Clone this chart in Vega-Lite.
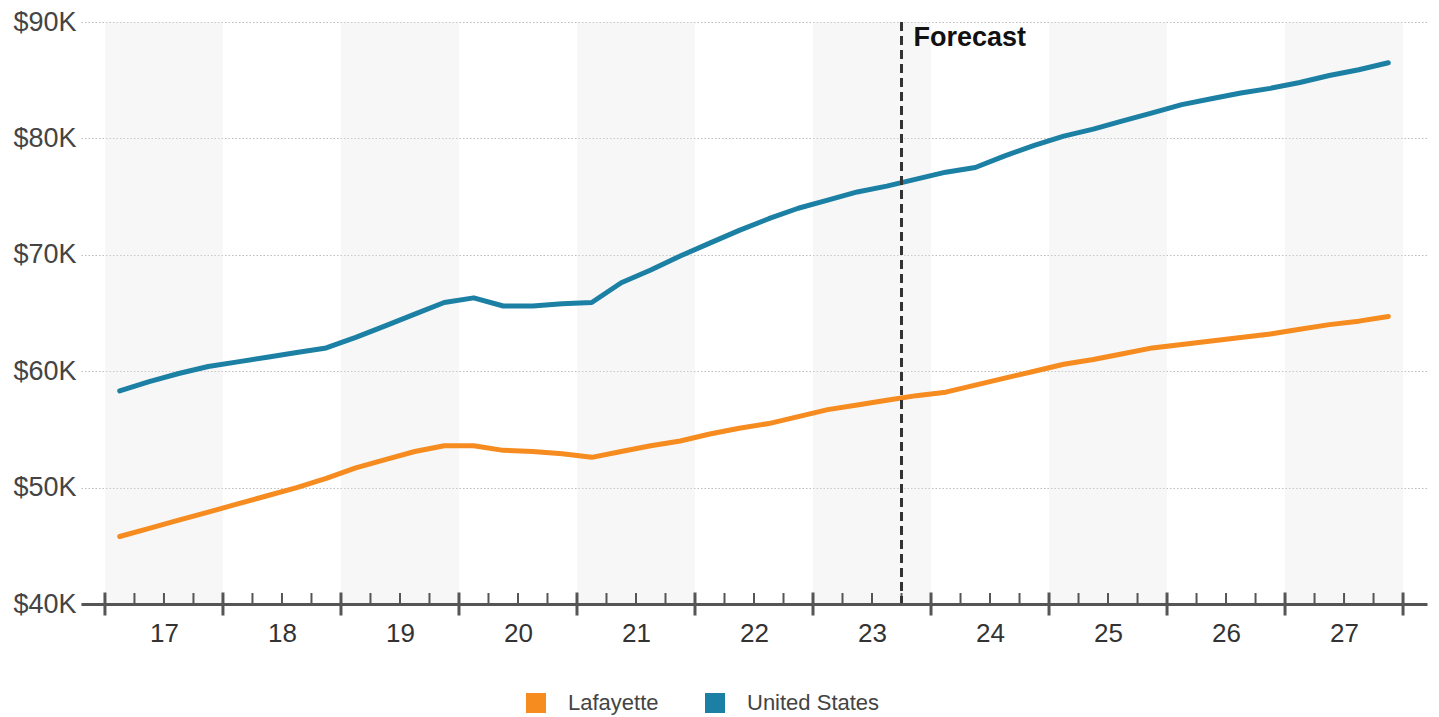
{
  "$schema": "https://vega.github.io/schema/vega-lite/v6.json",
  "width": 1346,
  "height": 582,
  "autosize": {"type": "none"},
  "padding": {"left": 81, "top": 22, "right": 12, "bottom": 113},
  "background": "white",
  "config": {
    "view": {"stroke": null},
    "font": "Liberation Sans",
    "axis": {"labelFont": "Liberation Sans"},
    "legend": {"labelFont": "Liberation Sans"}
  },
  "layer": [
    {
      "data": {"values": [
        {"start": 2017, "end": 2018},
        {"start": 2019, "end": 2020},
        {"start": 2021, "end": 2022},
        {"start": 2023, "end": 2024},
        {"start": 2025, "end": 2026},
        {"start": 2027, "end": 2028}
      ]},
      "mark": {"type": "rect", "fill": "#e4e4e4", "opacity": 0.3},
      "encoding": {
        "x": {
          "field": "start", "type": "quantitative",
          "scale": {"domain": [2016.797, 2028.203], "nice": false, "zero": false},
          "axis": {
            "orient": "bottom", "title": null, "grid": false, "zindex": 1,
            "values": [2017.5, 2018.5, 2019.5, 2020.5, 2021.5, 2022.5, 2023.5, 2024.5, 2025.5, 2026.5, 2027.5],
            "labelExpr": "substring(toString(floor(datum.value)), 2)",
            "ticks": false, "tickSize": 0,
            "domain": true, "domainColor": "#555555", "domainWidth": 3,
            "labelFontSize": 26, "labelColor": "#333333", "labelPadding": 16
          }
        },
        "x2": {"field": "end"},
        "y": {"datum": 90000, "type": "quantitative", "scale": {"domain": [40000, 90000], "nice": false, "zero": false}},
        "y2": {"datum": 40000}
      }
    },
    {
      "data": {"values": [
        {"t": 2017.125, "series": "Lafayette", "value": 45800},
        {"t": 2017.375, "series": "Lafayette", "value": 46500},
        {"t": 2017.625, "series": "Lafayette", "value": 47200},
        {"t": 2017.875, "series": "Lafayette", "value": 47900},
        {"t": 2018.125, "series": "Lafayette", "value": 48600},
        {"t": 2018.375, "series": "Lafayette", "value": 49300},
        {"t": 2018.625, "series": "Lafayette", "value": 50000},
        {"t": 2018.875, "series": "Lafayette", "value": 50800},
        {"t": 2019.125, "series": "Lafayette", "value": 51700},
        {"t": 2019.375, "series": "Lafayette", "value": 52400},
        {"t": 2019.625, "series": "Lafayette", "value": 53100},
        {"t": 2019.875, "series": "Lafayette", "value": 53600},
        {"t": 2020.125, "series": "Lafayette", "value": 53600},
        {"t": 2020.375, "series": "Lafayette", "value": 53200},
        {"t": 2020.625, "series": "Lafayette", "value": 53100},
        {"t": 2020.875, "series": "Lafayette", "value": 52900},
        {"t": 2021.125, "series": "Lafayette", "value": 52600},
        {"t": 2021.375, "series": "Lafayette", "value": 53100},
        {"t": 2021.625, "series": "Lafayette", "value": 53600},
        {"t": 2021.875, "series": "Lafayette", "value": 54000},
        {"t": 2022.125, "series": "Lafayette", "value": 54600},
        {"t": 2022.375, "series": "Lafayette", "value": 55100},
        {"t": 2022.625, "series": "Lafayette", "value": 55500},
        {"t": 2022.875, "series": "Lafayette", "value": 56100},
        {"t": 2023.125, "series": "Lafayette", "value": 56700},
        {"t": 2023.375, "series": "Lafayette", "value": 57100},
        {"t": 2023.625, "series": "Lafayette", "value": 57500},
        {"t": 2023.875, "series": "Lafayette", "value": 57900},
        {"t": 2024.125, "series": "Lafayette", "value": 58200},
        {"t": 2024.375, "series": "Lafayette", "value": 58800},
        {"t": 2024.625, "series": "Lafayette", "value": 59400},
        {"t": 2024.875, "series": "Lafayette", "value": 60000},
        {"t": 2025.125, "series": "Lafayette", "value": 60600},
        {"t": 2025.375, "series": "Lafayette", "value": 61000},
        {"t": 2025.625, "series": "Lafayette", "value": 61500},
        {"t": 2025.875, "series": "Lafayette", "value": 62000},
        {"t": 2026.125, "series": "Lafayette", "value": 62300},
        {"t": 2026.375, "series": "Lafayette", "value": 62600},
        {"t": 2026.625, "series": "Lafayette", "value": 62900},
        {"t": 2026.875, "series": "Lafayette", "value": 63200},
        {"t": 2027.125, "series": "Lafayette", "value": 63600},
        {"t": 2027.375, "series": "Lafayette", "value": 64000},
        {"t": 2027.625, "series": "Lafayette", "value": 64300},
        {"t": 2027.875, "series": "Lafayette", "value": 64700},
        {"t": 2017.125, "series": "United States", "value": 58300},
        {"t": 2017.375, "series": "United States", "value": 59100},
        {"t": 2017.625, "series": "United States", "value": 59800},
        {"t": 2017.875, "series": "United States", "value": 60400},
        {"t": 2018.125, "series": "United States", "value": 60800},
        {"t": 2018.375, "series": "United States", "value": 61200},
        {"t": 2018.625, "series": "United States", "value": 61600},
        {"t": 2018.875, "series": "United States", "value": 62000},
        {"t": 2019.125, "series": "United States", "value": 62900},
        {"t": 2019.375, "series": "United States", "value": 63900},
        {"t": 2019.625, "series": "United States", "value": 64900},
        {"t": 2019.875, "series": "United States", "value": 65900},
        {"t": 2020.125, "series": "United States", "value": 66300},
        {"t": 2020.375, "series": "United States", "value": 65600},
        {"t": 2020.625, "series": "United States", "value": 65600},
        {"t": 2020.875, "series": "United States", "value": 65800},
        {"t": 2021.125, "series": "United States", "value": 65900},
        {"t": 2021.375, "series": "United States", "value": 67600},
        {"t": 2021.625, "series": "United States", "value": 68700},
        {"t": 2021.875, "series": "United States", "value": 69900},
        {"t": 2022.125, "series": "United States", "value": 71000},
        {"t": 2022.375, "series": "United States", "value": 72100},
        {"t": 2022.625, "series": "United States", "value": 73100},
        {"t": 2022.875, "series": "United States", "value": 74000},
        {"t": 2023.125, "series": "United States", "value": 74700},
        {"t": 2023.375, "series": "United States", "value": 75400},
        {"t": 2023.625, "series": "United States", "value": 75900},
        {"t": 2023.875, "series": "United States", "value": 76500},
        {"t": 2024.125, "series": "United States", "value": 77100},
        {"t": 2024.375, "series": "United States", "value": 77500},
        {"t": 2024.625, "series": "United States", "value": 78500},
        {"t": 2024.875, "series": "United States", "value": 79400},
        {"t": 2025.125, "series": "United States", "value": 80200},
        {"t": 2025.375, "series": "United States", "value": 80800},
        {"t": 2025.625, "series": "United States", "value": 81500},
        {"t": 2025.875, "series": "United States", "value": 82200},
        {"t": 2026.125, "series": "United States", "value": 82900},
        {"t": 2026.375, "series": "United States", "value": 83400},
        {"t": 2026.625, "series": "United States", "value": 83900},
        {"t": 2026.875, "series": "United States", "value": 84300},
        {"t": 2027.125, "series": "United States", "value": 84800},
        {"t": 2027.375, "series": "United States", "value": 85400},
        {"t": 2027.625, "series": "United States", "value": 85900},
        {"t": 2027.875, "series": "United States", "value": 86500}
      ]},
      "mark": {"type": "line", "strokeWidth": 5, "strokeCap": "round", "strokeJoin": "round"},
      "encoding": {
        "x": {"field": "t", "type": "quantitative"},
        "y": {
          "field": "value", "type": "quantitative",
          "axis": {
            "orient": "left", "title": null,
            "values": [40000, 50000, 60000, 70000, 80000, 90000],
            "labelExpr": "'$' + (datum.value / 1000) + 'K'",
            "domain": false, "ticks": false,
            "labelPadding": 5, "labelFontSize": 27, "labelColor": "#444444",
            "grid": true, "gridColor": "#bdbdbd", "gridWidth": 1, "gridDash": [1.5, 2]
          }
        },
        "color": {
          "field": "series", "type": "nominal",
          "scale": {"domain": ["Lafayette", "United States"], "range": ["#F68B1F", "#1B80A4"]},
          "legend": {
            "orient": "none", "legendX": 444, "legendY": 670,
            "direction": "horizontal", "title": null,
            "symbolType": "square", "symbolSize": 400, "symbolStrokeWidth": 0,
            "labelFontSize": 22, "labelColor": "#444444", "labelOffset": 21,
            "columnPadding": 45, "padding": 0,
            "encode": {"symbols": {"update": {"fill": {"scale": "color", "field": "value"}, "opacity": {"value": 1}}}}
          }
        }
      }
    },
    {
      "data": {"values": [
        {"b": 2017}, {"b": 2018}, {"b": 2019}, {"b": 2020}, {"b": 2021}, {"b": 2022},
        {"b": 2023}, {"b": 2024}, {"b": 2025}, {"b": 2026}, {"b": 2027}, {"b": 2028}
      ]},
      "mark": {"type": "tick", "orient": "vertical", "size": 23, "thickness": 3, "color": "#555555", "opacity": 1},
      "encoding": {
        "x": {"field": "b", "type": "quantitative"},
        "y": {"datum": 40000, "type": "quantitative"}
      }
    },
    {
      "data": {"values": [
        {"b": 2017.25}, {"b": 2017.5}, {"b": 2017.75},
        {"b": 2018.25}, {"b": 2018.5}, {"b": 2018.75},
        {"b": 2019.25}, {"b": 2019.5}, {"b": 2019.75},
        {"b": 2020.25}, {"b": 2020.5}, {"b": 2020.75},
        {"b": 2021.25}, {"b": 2021.5}, {"b": 2021.75},
        {"b": 2022.25}, {"b": 2022.5}, {"b": 2022.75},
        {"b": 2023.25}, {"b": 2023.5}, {"b": 2023.75},
        {"b": 2024.25}, {"b": 2024.5}, {"b": 2024.75},
        {"b": 2025.25}, {"b": 2025.5}, {"b": 2025.75},
        {"b": 2026.25}, {"b": 2026.5}, {"b": 2026.75},
        {"b": 2027.25}, {"b": 2027.5}, {"b": 2027.75}
      ]},
      "mark": {"type": "tick", "orient": "vertical", "size": 11, "thickness": 2, "yOffset": -5.5, "color": "#555555", "opacity": 1},
      "encoding": {
        "x": {"field": "b", "type": "quantitative"},
        "y": {"datum": 40000, "type": "quantitative"}
      }
    },
    {
      "data": {"values": [{"t": 2023.75}]},
      "mark": {"type": "rule", "color": "#333333", "strokeWidth": 3, "strokeDash": [9, 5]},
      "encoding": {
        "x": {"field": "t", "type": "quantitative"},
        "y": {"datum": 90000, "type": "quantitative"},
        "y2": {"datum": 40000}
      }
    },
    {
      "data": {"values": [{"t": 2023.75, "label": "Forecast"}]},
      "mark": {"type": "text", "align": "left", "baseline": "middle", "dx": 12, "dy": 16, "fontSize": 27, "fontWeight": "bold", "color": "#111111"},
      "encoding": {
        "x": {"field": "t", "type": "quantitative"},
        "y": {"datum": 90000, "type": "quantitative"},
        "text": {"field": "label"}
      }
    }
  ]
}
